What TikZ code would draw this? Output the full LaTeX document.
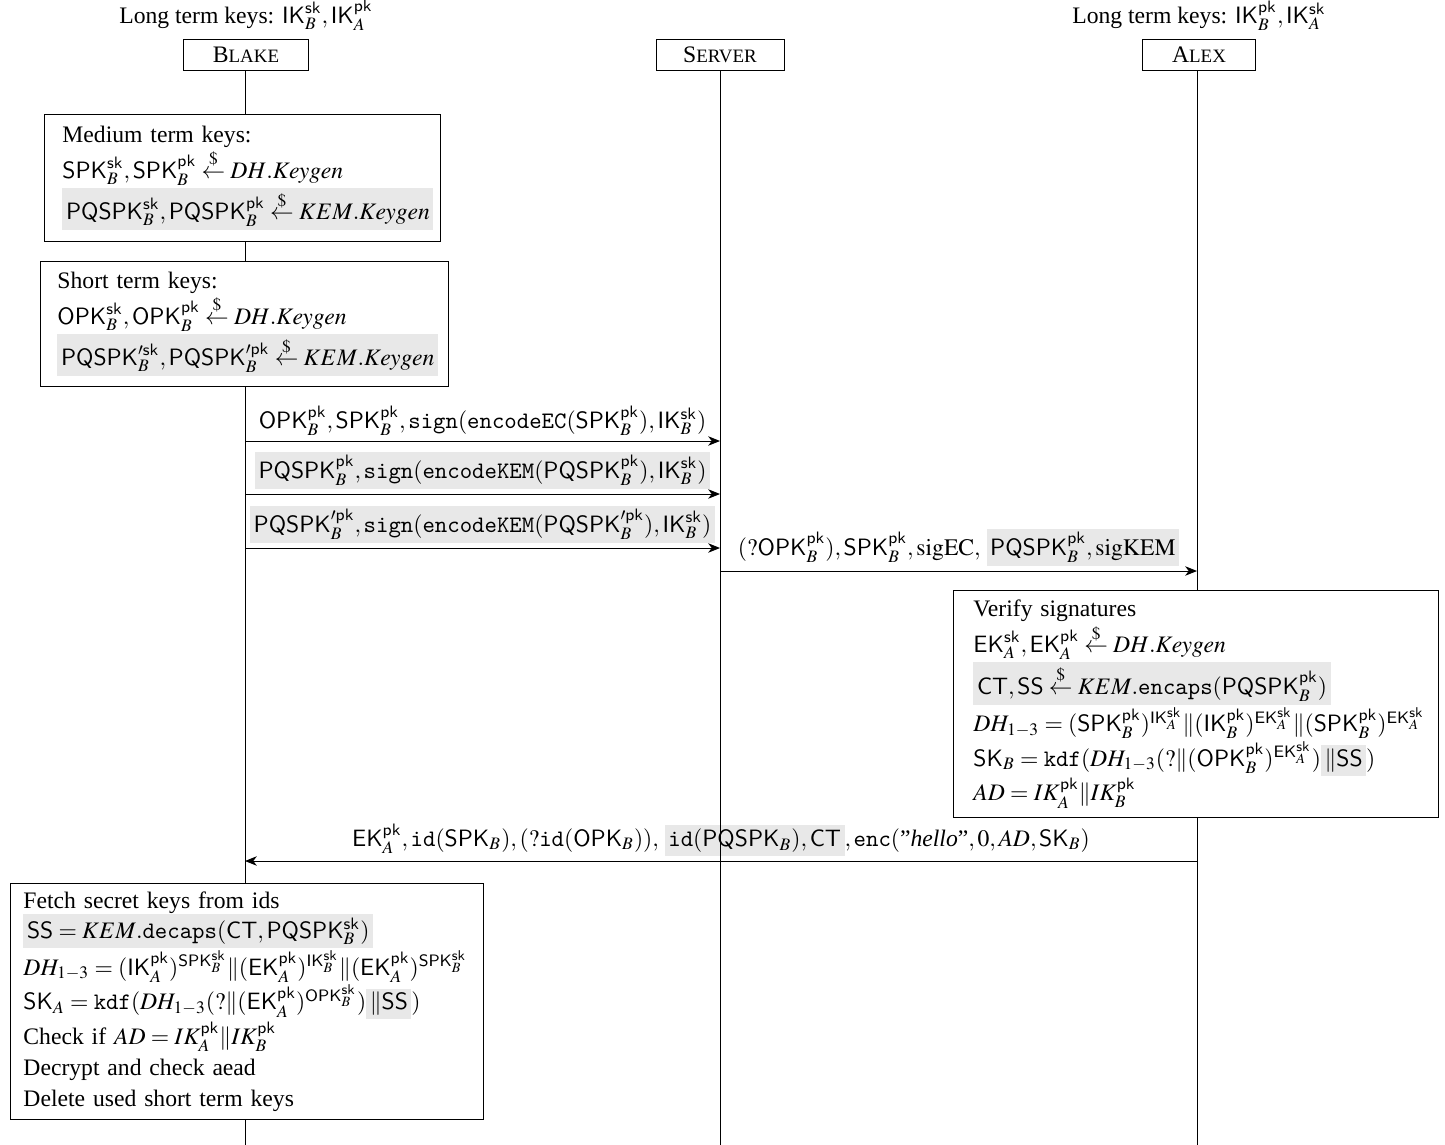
\documentclass[tikz,border=0pt]{standalone}
\usepackage{amsmath}
\usepackage{mathptmx}
\usepackage{fontspec}
\setmainfont{Liberation Serif}
\setsansfont{Liberation Sans}
\usetikzlibrary{positioning,arrows.meta}

\newdimen\px \px=0.423pt
\newcommand{\kn}[1]{\mathsf{#1}}
\newcommand{\key}[3]{\kn{#1}_{#2}^{\kn{#3}}}
\newcommand{\tfn}[1]{\textnormal{\ttfamily #1}}
\newcommand{\hl}[1]{{\setlength{\fboxsep}{1.5pt}\colorbox{hlgrey}{#1}}}
\newcommand{\sample}{\stackrel{\$}{\leftarrow}}
\newcommand{\actorname}[2]{#1{\fontsize{8}{8}\selectfont #2}}

\begin{document}
\begin{tikzpicture}[x=\px,y=-\px,
	actor/.style={draw,minimum width=125\px,minimum height=31\px,inner sep=0pt},
	keybox/.style={draw,fill=white,anchor=north west,align=left,font=\fontsize{10}{13}\selectfont},
	msg/.style={-{Stealth[length=5pt,width=4pt,inset=1.5pt]}},
	lbl/.style={above,inner sep=2pt}]

	\definecolor{hlgrey}{HTML}{E8E8E8}
	\useasboundingbox (0,0) rectangle (1445,1145);

	% Teilnehmer
	\node[actor] (blake) at (246,55) {\actorname{B}{LAKE}};
	\node[actor, minimum width=128\px] (server) at (720,55) {\actorname{S}{ERVER}};
	\node[actor, minimum width=113\px] (alex) at (1199,55) {\actorname{A}{LEX}};
	\node[above=0pt of blake] (ltkb) {Long term keys: $\key{IK}{B}{sk}, \key{IK}{A}{pk}$};
	\node[above=0pt of alex] (ltka) {Long term keys: $\key{IK}{B}{pk}, \key{IK}{A}{sk}$};

	% Punkte auf den Lebenslinien
	\coordinate (b1) at (245,441);  \coordinate (s1) at (720,441);
	\coordinate (b2) at (245,494);  \coordinate (s2) at (720,494);
	\coordinate (b3) at (245,548);  \coordinate (s3) at (720,548);
	\coordinate (s4) at (720,571);  \coordinate (a4) at (1197,571);
	\coordinate (a5) at (1197,861); \coordinate (b5) at (245,861);
	\coordinate (bend) at (245,1145);
	\coordinate (send) at (720,1145);
	\coordinate (aend) at (1197,1145);

	% Nachrichten
	\draw[msg] (b1) -- node[lbl] (m1) {$\key{OPK}{B}{pk}, \key{SPK}{B}{pk}, \tfn{sign}(\tfn{encodeEC}(\key{SPK}{B}{pk}), \key{IK}{B}{sk})$} (s1);
	\draw[msg] (b2) -- node[lbl] (m2) {\hl{$\key{PQSPK}{B}{pk}, \tfn{sign}(\tfn{encodeKEM}(\key{PQSPK}{B}{pk}), \key{IK}{B}{sk})$}} (s2);
	\draw[msg] (b3) -- node[lbl] (m3) {\hl{$\kn{PQSPK}^{\prime\kn{pk}}_B, \tfn{sign}(\tfn{encodeKEM}(\kn{PQSPK}^{\prime\kn{pk}}_B), \key{IK}{B}{sk})$}} (s3);
	\draw[msg] (s4) -- node[lbl] (m4) {$(?\key{OPK}{B}{pk}), \key{SPK}{B}{pk}, \mathrm{sigEC},$ \hl{$\key{PQSPK}{B}{pk}, \mathrm{sigKEM}$}} (a4);
	\draw[msg] (a5) -- node[lbl] (m5) {$\key{EK}{A}{pk}, \tfn{id}(\kn{SPK}_B), (?\tfn{id}(\kn{OPK}_B)),$ \hl{$\tfn{id}(\kn{PQSPK}_B), \kn{CT}$}$, \tfn{enc}(\text{''\textit{hello}''}, 0, AD, \kn{SK}_B)$} (b5);

	% Lebenslinien
	\draw (blake.south -| bend) -- (bend);
	\draw (server) -- (send);
	\draw (alex.south -| aend) -- (aend);

	% Kaesten
	\node[keybox, inner xsep=18\px, text width=360\px, minimum height=127\px] (medium) at (44,114) {%
		Medium term keys:\\
		\mbox{$\key{SPK}{B}{sk}, \key{SPK}{B}{pk} \sample DH.Keygen$}\\
		\hl{$\key{PQSPK}{B}{sk}, \key{PQSPK}{B}{pk} \sample KEM.Keygen$}};
	\node[keybox, inner xsep=17\px, text width=374\px, minimum height=125\px] (short) at (40,261) {%
		Short term keys:\\
		\mbox{$\key{OPK}{B}{sk}, \key{OPK}{B}{pk} \sample DH.Keygen$}\\
		\hl{$\kn{PQSPK}^{\prime\kn{sk}}_B, \kn{PQSPK}^{\prime\kn{pk}}_B \sample KEM.Keygen$}};
	\node[keybox, inner xsep=20\px, text width=445\px, minimum height=227\px] (verify) at (953,590) {%
		Verify signatures\\
		\mbox{$\key{EK}{A}{sk}, \key{EK}{A}{pk} \sample DH.Keygen$}\\
		\hl{$\kn{CT}, \kn{SS} \sample KEM.\tfn{encaps}(\key{PQSPK}{B}{pk})$}\\
		\mbox{$DH_{1-3} = (\key{SPK}{B}{pk})^{\key{IK}{A}{sk}} \| (\key{IK}{B}{pk})^{\key{EK}{A}{sk}} \| (\key{SPK}{B}{pk})^{\key{EK}{A}{sk}}$}\\
		\mbox{$\kn{SK}_B = \tfn{kdf}(DH_{1-3}(?\|(\key{OPK}{B}{pk})^{\key{EK}{A}{sk}})\hl{$\|\kn{SS}$})$}\\
		\mbox{$AD = IK_A^{\kn{pk}} \| IK_B^{\kn{pk}}$}};
	\node[keybox, inner xsep=13\px, text width=447\px, minimum height=235\px] (fetch) at (10,883) {%
		Fetch secret keys from ids\\
		\hl{$\kn{SS} = KEM.\tfn{decaps}(\kn{CT}, \key{PQSPK}{B}{sk})$}\\
		\mbox{$DH_{1-3} = (\key{IK}{A}{pk})^{\key{SPK}{B}{sk}} \| (\key{EK}{A}{pk})^{\key{IK}{B}{sk}} \| (\key{EK}{A}{pk})^{\key{SPK}{B}{sk}}$}\\
		\mbox{$\kn{SK}_A = \tfn{kdf}(DH_{1-3}(?\|(\key{EK}{A}{pk})^{\key{OPK}{B}{sk}})\hl{$\|\kn{SS}$})$}\\
		Check if \mbox{$AD = IK_A^{\kn{pk}} \| IK_B^{\kn{pk}}$}\\
		Decrypt and check aead\\
		Delete used short term keys};

\end{tikzpicture}
\end{document}
